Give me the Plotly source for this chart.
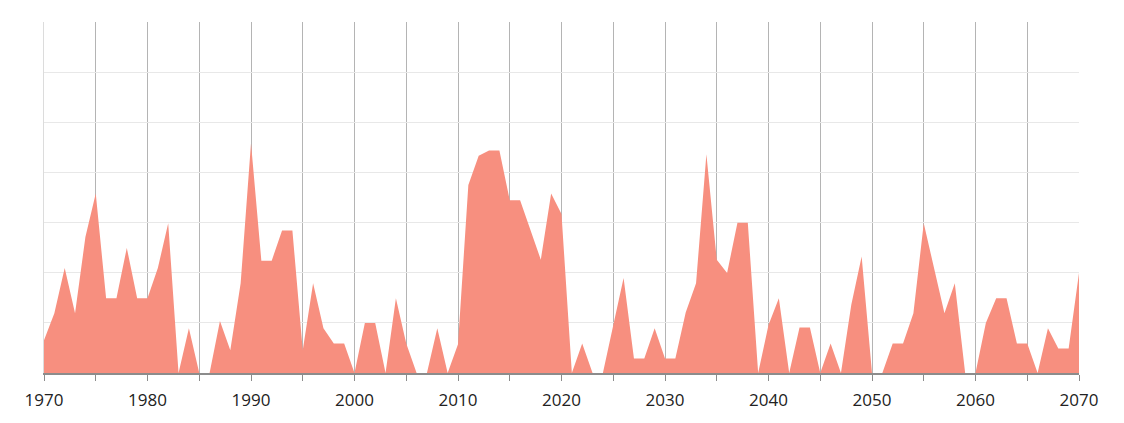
import plotly.graph_objects as go

years = list(range(1970, 2071))
values = [
    13.1, 23.8, 41.9, 23.8, 54.2, 71.6, 29.8, 29.8, 49.9, 29.8,   # 1970-1979
    29.8, 41.9, 59.7, 0, 17.8, 0, 0, 20.7, 9.1, 35.8,             # 1980-1989
    91.6, 44.8, 44.8, 56.8, 56.8, 9.1, 35.8, 17.8, 11.8, 11.8,    # 1990-1999
    0, 19.9, 19.9, 0, 29.8, 11.8, 0, 0, 17.8, 0,                  # 2000-2009
    11.5, 75.0, 86.7, 88.7, 88.7, 68.9, 68.9, 57.2, 45.2, 71.6,   # 2010-2019
    63.4, 0, 11.8, 0, 0, 19.0, 37.9, 5.8, 5.8, 17.8,              # 2020-2029
    5.8, 5.8, 24.1, 35.8, 87.3, 45.2, 39.9, 59.9, 59.9, 0,        # 2030-2039
    19.1, 29.8, 0, 18.1, 18.1, 0, 11.8, 0, 27.2, 46.5,            # 2040-2049
    0, 0, 11.8, 11.8, 23.8, 59.7, 41.9, 23.8, 35.8, 0,            # 2050-2059
    0, 19.9, 29.8, 29.8, 11.8, 11.8, 0, 17.8, 9.8, 9.8,           # 2060-2069
    39.9,                                                          # 2070
]
tick_years = list(range(1970, 2071, 5))
tick_labels = [str(y) if y % 10 == 0 else "" for y in tick_years]

fig = go.Figure()
fig.add_trace(go.Scatter(
    x=years, y=values, mode="lines", fill="tozeroy",
    line=dict(color="#F78F7F", width=0), fillcolor="#F78F7F",
    hoverinfo="x+y", showlegend=False,
))

fig.update_layout(
    width=1116, height=415,
    margin=dict(l=36, r=45, t=14, b=44),
    paper_bgcolor="white", plot_bgcolor="white",
    font=dict(family="Open Sans, Liberation Sans, sans-serif", size=17, color="#222222"),
    xaxis=dict(
        range=[1970, 2070],
        showgrid=True, gridcolor="#b4b4b4", gridwidth=1,
        showline=True, linecolor="#8c8c8c", linewidth=1.5,
        ticks="outside", ticklen=6, tickcolor="#8c8c8c",
        tickvals=tick_years, ticktext=tick_labels,
        ticklabelstandoff=5,
        zeroline=False, fixedrange=True,
    ),
    yaxis=dict(
        range=[0, 140], dtick=20,
        showgrid=True, gridcolor="#e8e8e8", gridwidth=1,
        showticklabels=False, zeroline=False,
        showline=True, linecolor="#dcdcdc", linewidth=1,
        fixedrange=True,
    ),
)

fig.write_html("out.html")
